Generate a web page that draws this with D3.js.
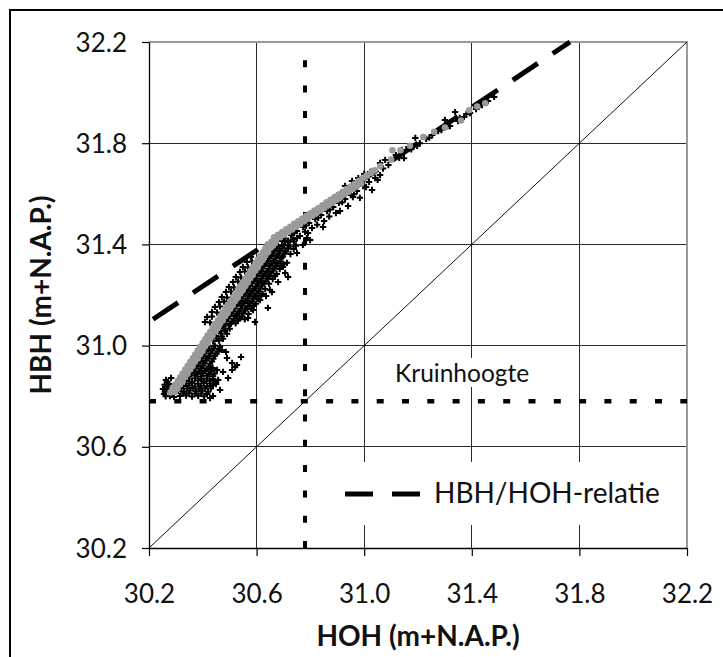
<!DOCTYPE html>
<html><head><meta charset="utf-8">
<script src="https://cdn.jsdelivr.net/npm/d3@7"></script>
<style>
html,body{margin:0;padding:0;background:#fff;}
svg{display:block;}
text{font-family:Lato,"Noto Sans",sans-serif;fill:#111;}
</style></head>
<body>
<svg id="chart" width="723" height="657"></svg>
<script>
// ---------- data ----------
const xTicks = [30.2, 30.6, 31.0, 31.4, 31.8, 32.2];
const yTicks = [30.2, 30.6, 31.0, 31.4, 31.8, 32.2];
const xTitle = "HOH (m+N.A.P.)";
const yTitle = "HBH (m+N.A.P.)";
const crestLevel = 30.78;            // Kruinhoogte
const crestLabel = "Kruinhoogte";
const legendLabel = "HBH/HOH-relatie";
const diagonalX = [30.2, 32.2];
const diagonalY = [30.2, 32.2];
const relationX = [30.215, 31.765];   // HBH/HOH-relatie
const relationY = [31.104, 32.2];

// measured points, black crosses [HOH, HBH]
const measuredBlack = [
[30.256,30.809],[30.267,30.828],[30.274,30.848],[30.263,30.864],[30.282,30.872],[30.252,30.828],[30.278,30.801],[30.293,30.797],
[30.259,30.818],[30.271,30.838],[30.258,30.845],[30.268,30.856],[30.285,30.812],[30.262,30.800],
[30.315,30.801],[30.338,30.803],[30.360,30.799],[30.383,30.802],[30.405,30.800],
[30.326,30.811],[30.349,30.812],[30.371,30.810],[30.394,30.811],[30.416,30.809],
[30.308,30.821],[30.330,30.819],[30.352,30.823],[30.375,30.820],[30.397,30.822],[30.419,30.818],
[30.319,30.831],[30.341,30.830],[30.363,30.832],[30.386,30.829],[30.408,30.831],[30.430,30.830],
[30.326,30.840],[30.349,30.842],[30.371,30.838],[30.393,30.841],[30.416,30.839],[30.438,30.843],
[30.337,30.850],[30.360,30.851],[30.382,30.849],[30.404,30.852],[30.427,30.850],[30.449,30.848],
[30.338,30.860],[30.360,30.858],[30.383,30.862],[30.405,30.859],[30.427,30.861],[30.445,30.857],
[30.349,30.870],[30.371,30.871],[30.394,30.869],[30.416,30.870],[30.438,30.868],
[30.349,30.880],[30.371,30.882],[30.393,30.878],[30.416,30.881],[30.438,30.879],
[30.357,30.890],[30.379,30.889],[30.401,30.891],[30.423,30.888],[30.444,30.890],
[30.364,30.900],[30.386,30.898],[30.408,30.902],[30.430,30.899],
[30.371,30.909],[30.393,30.910],[30.415,30.908],[30.437,30.911],
[30.378,30.919],[30.401,30.921],[30.423,30.917],
[30.383,30.929],[30.405,30.930],[30.427,30.928],
[30.390,30.939],[30.412,30.941],[30.434,30.937],
[30.395,30.949],[30.417,30.950],[30.439,30.948],
[30.401,30.959],[30.423,30.957],[30.445,30.961],
[30.407,30.969],[30.429,30.970],[30.451,30.968],
[30.412,30.979],[30.434,30.981],[30.457,30.977],
[30.418,30.988],[30.440,30.989],[30.460,30.987],
[30.423,30.998],[30.445,31.000],[30.464,30.996],
[30.438,31.018],[30.460,31.020],[30.452,31.028],[30.475,31.027],
[30.449,31.038],[30.471,31.036],[30.468,31.048],[30.490,31.047],
[30.464,31.058],[30.483,31.060],[30.478,31.068],[30.500,31.067],
[30.475,31.077],[30.497,31.079],
[30.481,31.087],[30.503,31.086],[30.522,31.088],
[30.486,31.097],[30.509,31.095],[30.531,31.099],
[30.494,31.107],[30.516,31.106],[30.538,31.108],[30.556,31.104],
[30.501,31.117],[30.523,31.119],[30.546,31.115],
[30.507,31.127],[30.529,31.126],[30.551,31.128],[30.570,31.125],
[30.512,31.137],[30.535,31.135],[30.557,31.139],
[30.518,31.147],[30.540,31.146],[30.562,31.148],[30.580,31.145],
[30.523,31.157],[30.546,31.159],[30.568,31.155],[30.590,31.158],
[30.531,31.167],[30.553,31.166],[30.575,31.168],[30.597,31.165],
[30.538,31.176],[30.561,31.178],[30.583,31.174],
[30.544,31.186],[30.566,31.185],[30.588,31.187],[30.606,31.184],
[30.549,31.196],[30.572,31.198],[30.594,31.194],[30.616,31.197],
[30.557,31.206],[30.579,31.205],[30.601,31.207],[30.623,31.204],
[30.564,31.216],[30.587,31.218],[30.609,31.214],
[30.570,31.226],[30.592,31.225],[30.614,31.227],[30.632,31.224],
[30.575,31.236],[30.598,31.234],[30.620,31.238],
[30.583,31.246],[30.605,31.245],[30.627,31.247],[30.646,31.244],
[30.590,31.255],[30.613,31.257],[30.635,31.253],
[30.596,31.265],[30.618,31.264],[30.640,31.266],[30.660,31.263],
[30.601,31.275],[30.624,31.277],[30.646,31.273],[30.668,31.276],
[30.609,31.285],[30.631,31.284],[30.653,31.286],[30.675,31.283],
[30.616,31.295],[30.639,31.293],[30.661,31.297],
[30.622,31.305],[30.644,31.304],[30.666,31.306],[30.686,31.303],
[30.628,31.315],[30.650,31.317],[30.672,31.313],[30.694,31.316],
[30.635,31.325],[30.657,31.324],[30.679,31.326],[30.700,31.323],
[30.642,31.334],[30.665,31.336],[30.687,31.332],
[30.648,31.345],[30.670,31.344],[30.692,31.346],
[30.654,31.354],[30.676,31.356],[30.698,31.352],
[30.660,31.364],[30.682,31.363],[30.704,31.365],[30.726,31.362],
[30.665,31.374],[30.687,31.376],[30.709,31.372],
[30.673,31.384],[30.695,31.383],[30.717,31.385],[30.738,31.382],
[30.680,31.394],[30.702,31.396],[30.724,31.392],[30.746,31.395],
[30.694,31.413],[30.717,31.415],[30.739,31.411],
[30.471,30.983],[30.490,30.951],[30.509,30.931],[30.520,30.915],[30.457,30.864],[30.475,30.896],[30.453,30.904],
[30.509,30.904],[30.527,30.923],[30.494,30.872],[30.486,30.975],[30.438,30.801],[30.464,30.825],[30.427,30.793],
[30.542,30.955],[30.613,31.180],[30.635,31.196],[30.650,31.220],[30.642,31.149],[30.587,31.141],[30.657,31.212],
[30.680,31.251],[30.706,31.287],[30.713,31.327],[30.750,31.366],[30.698,31.311],[30.717,31.271],[30.772,31.398],
[30.787,31.425],[30.799,31.417],[30.791,31.445],[30.847,31.469],[30.910,31.532],[30.958,31.587],[30.750,31.425],
[30.724,31.445],[30.568,31.109],[30.594,31.093],
[30.408,31.093],[30.427,31.091],[30.416,31.113],[30.434,31.115],[30.434,31.133],[30.453,31.131],[30.445,31.153],
[30.464,31.155],[30.460,31.172],[30.479,31.174],[30.471,31.192],[30.490,31.190],[30.486,31.212],[30.505,31.214],
[30.497,31.232],[30.516,31.230],[30.512,31.251],[30.531,31.253],[30.523,31.271],[30.542,31.269],[30.538,31.291],
[30.557,31.293],[30.549,31.311],[30.568,31.309],[30.564,31.330],[30.583,31.332],[30.579,31.350],
[30.706,31.413],[30.728,31.437],[30.750,31.453],[30.773,31.469],[30.795,31.485],[30.818,31.500],[30.840,31.516],
[30.862,31.532],[30.885,31.548],[30.906,31.564],[30.929,31.579],[30.951,31.595],[30.973,31.611],[30.996,31.631],
[31.018,31.647],[31.041,31.662],
[30.717,31.409],[30.761,31.433],[30.806,31.465],[30.851,31.492],[30.895,31.524],[30.940,31.552],[30.984,31.584],[31.029,31.615],
[30.700,31.425],[30.740,31.445],[30.784,31.475],[30.829,31.505],[30.873,31.538],[30.918,31.567],[30.962,31.598],[31.007,31.627],[31.050,31.655],
[30.735,31.420],[30.780,31.450],[30.825,31.478],[30.870,31.510],
[30.929,31.631],[30.955,31.651],[30.978,31.662],[31.000,31.678],[31.022,31.686],
[31.059,31.722],[31.078,31.734],[31.118,31.753],[31.141,31.773],[31.164,31.785],[31.190,31.821],[31.207,31.800],
[31.230,31.817],[31.253,31.832],[31.275,31.848],[31.300,31.892],[31.319,31.868],[31.338,31.923],[31.349,31.888],
[31.371,31.904],[31.393,31.919],[31.416,31.935],[31.438,31.951],[31.460,31.967],[31.483,31.983],[31.059,31.674],[31.148,31.741],
[31.070,31.700],[31.090,31.714],[31.130,31.742],[31.175,31.776],[31.197,31.790],[31.242,31.822],[31.287,31.852],
[31.310,31.868],[31.355,31.900],[31.380,31.915],[31.427,31.945],[31.450,31.960]
];

// measured points, grey markers [HOH, HBH]
const measuredGrey = [
[30.280,30.815],[30.296,30.817],[30.288,30.830],[30.306,30.829],[30.297,30.845],[30.315,30.846],[30.307,30.860],[30.325,30.858],
[30.316,30.875],[30.334,30.876],[30.325,30.890],[30.343,30.889],[30.335,30.905],[30.353,30.906],[30.344,30.920],[30.362,30.919],
[30.353,30.935],[30.371,30.936],[30.363,30.950],[30.381,30.949],[30.372,30.965],[30.390,30.966],[30.381,30.980],[30.399,30.979],
[30.390,30.995],[30.408,30.996],[30.400,31.010],[30.418,31.009],[30.409,31.025],[30.427,31.026],[30.418,31.040],[30.436,31.039],
[30.428,31.055],[30.446,31.056],[30.437,31.070],[30.455,31.069],[30.446,31.085],[30.464,31.086],[30.456,31.100],[30.474,31.099],
[30.465,31.115],[30.483,31.116],[30.474,31.130],[30.492,31.129],[30.484,31.145],[30.502,31.146],[30.493,31.160],[30.511,31.159],
[30.502,31.175],[30.520,31.176],[30.512,31.190],[30.530,31.189],[30.521,31.205],[30.539,31.206],[30.530,31.220],[30.548,31.219],
[30.540,31.235],[30.558,31.236],[30.549,31.250],[30.567,31.249],[30.558,31.265],[30.576,31.266],[30.568,31.280],[30.586,31.279],
[30.577,31.295],[30.595,31.296],[30.586,31.310],[30.604,31.309],[30.596,31.325],[30.614,31.326],[30.605,31.340],[30.623,31.339],
[30.614,31.355],[30.632,31.356],[30.624,31.370],[30.642,31.369],[30.633,31.385],[30.651,31.386],[30.642,31.400],[30.660,31.399],
[30.655,31.410],[30.668,31.405],[30.660,31.395],
[30.665,31.428],[30.680,31.438],[30.695,31.449],[30.710,31.460],[30.725,31.470],[30.740,31.481],[30.755,31.491],[30.770,31.502],
[30.785,31.513],[30.800,31.523],[30.815,31.534],[30.830,31.544],[30.845,31.555],[30.860,31.566],[30.875,31.576],[30.890,31.587],
[30.905,31.597],[30.920,31.608],[30.935,31.619],[30.950,31.629],[30.965,31.640],[30.980,31.651],[30.995,31.661],[31.010,31.672],
[31.025,31.682],[31.040,31.693],
[30.672,31.417],[30.688,31.428],[30.702,31.438],[30.718,31.449],[30.732,31.459],[30.748,31.470],[30.762,31.480],[30.778,31.492],
[30.792,31.502],[30.808,31.513],[30.822,31.523],[30.838,31.534],[30.852,31.544],[30.868,31.555],[30.882,31.565],[30.898,31.576],
[30.912,31.586],[30.928,31.598],[30.942,31.608],[30.958,31.619],[30.972,31.629],[30.988,31.640],
[31.000,31.665],[31.030,31.690],[31.060,31.710],[31.100,31.735],[31.105,31.772],[31.135,31.772],[31.170,31.790],[31.220,31.824],
[31.260,31.845],[31.300,31.862],[31.360,31.890],[31.390,31.930],[31.420,31.945],[31.450,31.958]
];

// ---------- drawing ----------
const svg = d3.select("#chart");
const plotL = 149, plotR = 687, plotT = 42, plotB = 548;

const x = d3.scaleLinear().domain([30.2, 32.2]).range([plotL, plotR]);
const y = d3.scaleLinear().domain([30.2, 32.2]).range([plotB, plotT]);

// outer chart border (extends past the photographed area)
svg.append("rect").attr("x", 10).attr("y", 10).attr("width", 760).attr("height", 700)
  .attr("fill", "none").attr("stroke", "#000").attr("stroke-width", 2);

// grid
const grid = svg.append("g").attr("shape-rendering", "crispEdges");
grid.selectAll("line.vx").data(xTicks.slice(1, -1)).join("line")
  .attr("x1", d => x(d)).attr("x2", d => x(d)).attr("y1", plotT).attr("y2", plotB)
  .attr("stroke", "#2a2a2a").attr("stroke-width", 1);
grid.selectAll("line.hy").data(yTicks.slice(1, -1)).join("line")
  .attr("y1", d => y(d)).attr("y2", d => y(d)).attr("x1", plotL).attr("x2", plotR)
  .attr("stroke", "#2a2a2a").attr("stroke-width", 1);
grid.append("path").attr("d", `M${plotL},${plotT}H${plotR}V${plotB}`)
  .attr("fill", "none").attr("stroke", "#999").attr("stroke-width", 1.3);

// diagonal HBH = HOH
const line = d3.line().x(d => x(d[0])).y(d => y(d[1]));
svg.append("path").datum(d3.zip(diagonalX, diagonalY)).attr("d", line)
  .attr("fill", "none").attr("stroke", "#111").attr("stroke-width", 1);

// crest label (white box hides grid behind it)
const crestText = svg.append("text").attr("x", 395).attr("y", 382).style("font-size", "24.5px").text(crestLabel);
const cb = crestText.node().getBBox();
svg.insert("rect", "text").attr("x", cb.x - 4).attr("y", cb.y).attr("width", cb.width + 8).attr("height", cb.height)
  .attr("fill", "#fff");

// crest level dotted lines
svg.append("line").attr("x1", x(30.2)).attr("x2", x(32.2)).attr("y1", y(crestLevel)).attr("y2", y(crestLevel))
  .attr("stroke", "#000").attr("stroke-width", 4.5).attr("stroke-dasharray", "7,18.3");
svg.append("line").attr("x1", x(crestLevel)).attr("x2", x(crestLevel)).attr("y1", y(30.2)).attr("y2", y(32.2))
  .attr("stroke", "#000").attr("stroke-width", 4).attr("stroke-dasharray", "7,18.3");

// HBH/HOH relation (dashed)
svg.append("path").datum(d3.zip(relationX, relationY)).attr("d", line)
  .attr("fill", "none").attr("stroke", "#000").attr("stroke-width", 5).attr("stroke-dasharray", "30,18");

// black crosses
svg.append("g").selectAll("path").data(measuredBlack).join("path")
  .attr("transform", d => `translate(${x(d[0])},${y(d[1])})`)
  .attr("d", "M-3.2,0H3.2M0,-3.2V3.2")
  .attr("stroke", "#000").attr("stroke-width", 2).attr("fill", "none");

// grey markers
svg.append("g").selectAll("circle").data(measuredGrey).join("circle")
  .attr("cx", d => x(d[0])).attr("cy", d => y(d[1])).attr("r", 3.3)
  .attr("fill", "#9a9a9a");

// axes
const xAxis = svg.append("g").attr("transform", `translate(0,${plotB})`)
  .call(d3.axisBottom(x).tickValues(xTicks).tickFormat(d3.format(".1f")).tickSizeInner(8).tickSizeOuter(0).tickPadding(10));
const yAxis = svg.append("g").attr("transform", `translate(${plotL},0)`)
  .call(d3.axisLeft(y).tickValues(yTicks).tickFormat(d3.format(".1f")).tickSizeInner(7).tickSizeOuter(0).tickPadding(15));
[xAxis, yAxis].forEach(a => {
  a.select(".domain").attr("stroke", "#000").attr("stroke-width", 1.3);
  a.selectAll(".tick line").attr("stroke", "#000").attr("stroke-width", 1.2);
  a.selectAll("text").style("font-family", "Lato, 'Noto Sans', sans-serif").style("font-size", "26px").attr("fill", "#111");
});
xAxis.selectAll("text").attr("dy", null).attr("y", 55);
yAxis.selectAll("text").attr("dy", "0.35em");

// axis titles
svg.append("text").attr("x", (plotL + plotR) / 2).attr("y", 646).attr("text-anchor", "middle")
  .style("font-weight", "bold").style("font-size", "28px").text(xTitle);
svg.append("text").attr("transform", `translate(51,${(plotT + plotB) / 2}) rotate(-90)`).attr("text-anchor", "middle")
  .style("font-weight", "bold").style("font-size", "28px").text(yTitle);

// legend
svg.append("rect").attr("x", 318).attr("y", 462).attr("width", plotR - 318 - 1).attr("height", 63).attr("fill", "#fff");
svg.append("line").attr("x1", 345).attr("x2", 420).attr("y1", 494).attr("y2", 494)
  .attr("stroke", "#000").attr("stroke-width", 5).attr("stroke-dasharray", "28,19");
svg.append("text").attr("x", 434).attr("y", 503).style("font-size", "28px").text(legendLabel);
</script>
</body></html>
